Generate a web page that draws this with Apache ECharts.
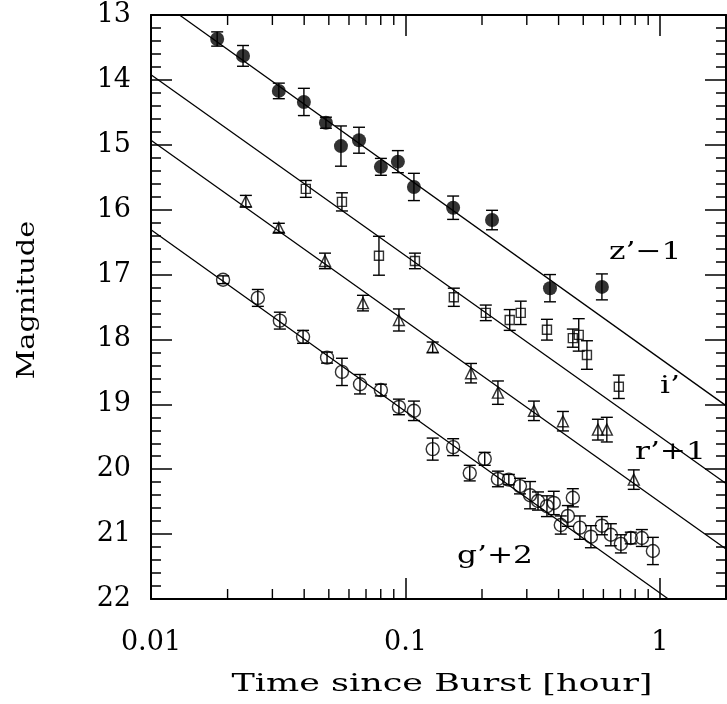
<!DOCTYPE html>
<html>
<head>
<meta charset="utf-8">
<script src="https://cdn.jsdelivr.net/npm/echarts@6/dist/echarts.min.js"></script>
<style>html,body{margin:0;padding:0;background:#fff}#c{width:727px;height:704px}</style>
</head>
<body>
<div id="c"></div>
<script>
// ---- data (time in hours, magnitude, error) ----
var zT = [0.0182, 0.0230, 0.0318, 0.0399, 0.0487, 0.0558, 0.0657, 0.0801, 0.0934, 0.108, 0.154, 0.219, 0.370, 0.592];
var zM = [13.37, 13.63, 14.17, 14.34, 14.66, 15.02, 14.93, 15.34, 15.26, 15.65, 15.97, 16.16, 17.21, 17.19];
var zE = [0.11, 0.16, 0.12, 0.21, 0.085, 0.31, 0.20, 0.13, 0.17, 0.21, 0.18, 0.15, 0.21, 0.20];

var iT = [0.0406, 0.0563, 0.0787, 0.109, 0.155, 0.207, 0.257, 0.284, 0.360, 0.455, 0.480, 0.517, 0.690];
var iM = [15.68, 15.88, 16.71, 16.79, 17.35, 17.59, 17.70, 17.59, 17.85, 17.98, 17.93, 18.24, 18.73];
var iE = [0.13, 0.14, 0.30, 0.12, 0.14, 0.12, 0.16, 0.18, 0.16, 0.14, 0.25, 0.22, 0.18];

var rT = [0.0236, 0.0318, 0.0483, 0.0681, 0.0943, 0.128, 0.181, 0.231, 0.320, 0.416, 0.571, 0.619, 0.790];
var rM = [15.87, 16.28, 16.79, 17.44, 17.70, 18.12, 18.52, 18.82, 19.10, 19.26, 19.39, 19.39, 20.16];
var rE = [0.09, 0.07, 0.12, 0.12, 0.17, 0.08, 0.15, 0.18, 0.15, 0.15, 0.16, 0.19, 0.15];

var gT = [0.0192, 0.0263, 0.0321, 0.0396, 0.0492, 0.0563, 0.0663, 0.0801, 0.0943, 0.108, 0.128, 0.154, 0.179, 0.205, 0.231, 0.255, 0.282, 0.309, 0.332, 0.360, 0.383, 0.408, 0.435, 0.455, 0.485, 0.536, 0.592, 0.642, 0.703, 0.769, 0.850, 0.939];
var gM = [17.08, 17.36, 17.71, 17.96, 18.28, 18.50, 18.69, 18.78, 19.04, 19.10, 19.69, 19.66, 20.06, 19.84, 20.15, 20.16, 20.26, 20.40, 20.49, 20.57, 20.52, 20.86, 20.72, 20.44, 20.90, 21.04, 20.87, 21.01, 21.15, 21.06, 21.06, 21.26];
var gE = [0.06, 0.13, 0.13, 0.10, 0.085, 0.21, 0.15, 0.09, 0.12, 0.15, 0.17, 0.13, 0.12, 0.10, 0.12, 0.08, 0.12, 0.21, 0.14, 0.16, 0.18, 0.14, 0.16, 0.14, 0.18, 0.17, 0.14, 0.17, 0.14, 0.09, 0.13, 0.21];

// fitted power-law lines (end points)
var zLine = [[0.01294, 13.0], [1.82, 19.02]];
var iLine = [[0.01, 13.92], [1.82, 20.22]];
var rLine = [[0.01, 14.93], [1.82, 21.23]];
var gLine = [[0.01, 16.31], [1.08, 22.0]];

// axes
var xMin = 0.01, xMax = 1.82;
var xTickValues = [0.01, 0.1, 1];
var xTickLabels = ['0.01', '0.1', '1'];
var xMinorTicks = [0.02, 0.03, 0.04, 0.05, 0.06, 0.07, 0.08, 0.09, 0.2, 0.3, 0.4, 0.5, 0.6, 0.7, 0.8, 0.9];
var yMin = 13, yMax = 22;
var curveLabels = ['z\u2019\u22121', 'i\u2019', 'r\u2019+1', 'g\u2019+2'];
var xTitle = 'Time since Burst [hour]';
var yTitle = 'Magnitude';

// ---- build ----
var FONT = 'DejaVu Serif';
function pts(T, M) { return T.map(function (t, k) { return [t, M[k]]; }); }
function errs(T, M, E) { return T.map(function (t, k) { return [t, M[k], E[k]]; }); }

function errRender(params, api) {
  var t = api.value(0), m = api.value(1), e = api.value(2);
  var a = api.coord([t, m - e]), b = api.coord([t, m + e]);
  var h = 6;
  var st = { stroke: '#000', lineWidth: 1.4 };
  return { type: 'group', children: [
    { type: 'line', shape: { x1: a[0], y1: a[1], x2: b[0], y2: b[1] }, style: st },
    { type: 'line', shape: { x1: a[0] - h, y1: a[1], x2: a[0] + h, y2: a[1] }, style: st },
    { type: 'line', shape: { x1: b[0] - h, y1: b[1], x2: b[0] + h, y2: b[1] }, style: st }
  ]};
}
function minorRender(params, api) {
  var v = api.value(0);
  var b = api.coord([v, yMax]), t = api.coord([v, yMin]);
  var st = { stroke: '#000', lineWidth: 1.4 };
  return { type: 'group', children: [
    { type: 'line', shape: { x1: b[0], y1: b[1], x2: b[0], y2: b[1] - 10 }, style: st },
    { type: 'line', shape: { x1: t[0], y1: t[1], x2: t[0], y2: t[1] + 10 }, style: st }
  ]};
}
function xFmt(v) {
  var best = 0, bd = 1e9;
  for (var k = 0; k < xTickValues.length; k++) {
    var d = Math.abs(Math.log10(v) - Math.log10(xTickValues[k]));
    if (d < bd) { bd = d; best = k; }
  }
  return bd < 1e-6 ? xTickLabels[best] : '';
}

function lineSeries(d) {
  return { type: 'line', data: d, symbol: 'none', silent: true, z: 2,
    lineStyle: { color: '#000', width: 1.3 } };
}
function errSeries(T, M, E) {
  return { type: 'custom', renderItem: errRender, data: errs(T, M, E), silent: true, z: 3,
    encode: { x: 0, y: 1 } };
}
function scat(T, M, sym, size, filled) {
  return { type: 'scatter', data: pts(T, M), symbol: sym, symbolSize: size, silent: true, z: 4,
    itemStyle: filled ? { color: '#000' } : { color: 'rgba(0,0,0,0)', borderColor: '#000', borderWidth: 1.4 } };
}

var axisLineStyle = { color: '#000', width: 2 };
var tickStyle = { color: '#000', width: 1.5 };
function xAx(pos, showLabel) {
  return { type: 'log', logBase: 10, min: xMin, max: xMax, position: pos,
    axisLine: { lineStyle: axisLineStyle },
    axisTick: { inside: true, length: 21, lineStyle: tickStyle },
    minorTick: { show: false }, splitLine: { show: false },
    axisLabel: { show: showLabel, margin: 30, fontFamily: FONT, fontSize: 27, color: '#000',
      showMaxLabel: false, formatter: xFmt } };
}
function yAx(pos, showLabel) {
  return { type: 'value', inverse: true, min: yMin, max: yMax, interval: 1, position: pos,
    axisLine: { lineStyle: axisLineStyle },
    axisTick: { inside: true, length: 21, lineStyle: tickStyle },
    minorTick: { show: true, splitNumber: 5, length: 10, lineStyle: tickStyle },
    splitLine: { show: false }, minorSplitLine: { show: false },
    axisLabel: { show: showLabel, margin: 20, fontFamily: FONT, fontSize: 27, color: '#000' } };
}

function label(txt, x, y, size, sx) {
  return { type: 'text', x: x, y: y, scaleX: sx, silent: true,
    style: { text: txt, fontFamily: FONT, fontSize: size, fill: '#000', align: 'left', verticalAlign: 'middle' } };
}

var chart = echarts.init(document.getElementById('c'), null, { renderer: 'canvas' });
chart.setOption({
  animation: false,
  backgroundColor: '#fff',
  grid: { left: 151, right: 1, top: 15, bottom: 105 },
  xAxis: [xAx('bottom', true), xAx('top', false)],
  yAxis: [yAx('left', true), yAx('right', false)],
  series: [
    { type: 'custom', renderItem: minorRender, data: xMinorTicks.map(function (v) { return [v, yMin]; }), silent: true, z: 5, encode: { x: 0, y: 1 } },
    lineSeries(zLine), lineSeries(iLine), lineSeries(rLine), lineSeries(gLine),
    errSeries(zT, zM, zE), errSeries(iT, iM, iE), errSeries(rT, rM, rE), errSeries(gT, gM, gE),
    scat(zT, zM, 'circle', 14, true),
    scat(iT, iM, 'rect', 9, false),
    scat(rT, rM, 'triangle', 11, false),
    scat(gT, gM, 'circle', 13, false)
  ],
  graphic: [
    label(curveLabels[0], 609, 252, 25, 1.25),
    label(curveLabels[1], 660, 386, 25, 1.25),
    label(curveLabels[2], 635, 452, 25, 1.25),
    label(curveLabels[3], 457, 556, 25, 1.25),
    { type: 'text', x: 442, y: 684, scaleX: 1.4, silent: true,
      style: { text: xTitle, fontFamily: FONT, fontSize: 25, fill: '#000', align: 'center', verticalAlign: 'middle' } },
    { type: 'text', x: 28, y: 300, rotation: Math.PI / 2, scaleX: 1.2, silent: true,
      style: { text: yTitle, fontFamily: FONT, fontSize: 24, fill: '#000', align: 'center', verticalAlign: 'middle' } }
  ]
});
</script>
</body>
</html>
